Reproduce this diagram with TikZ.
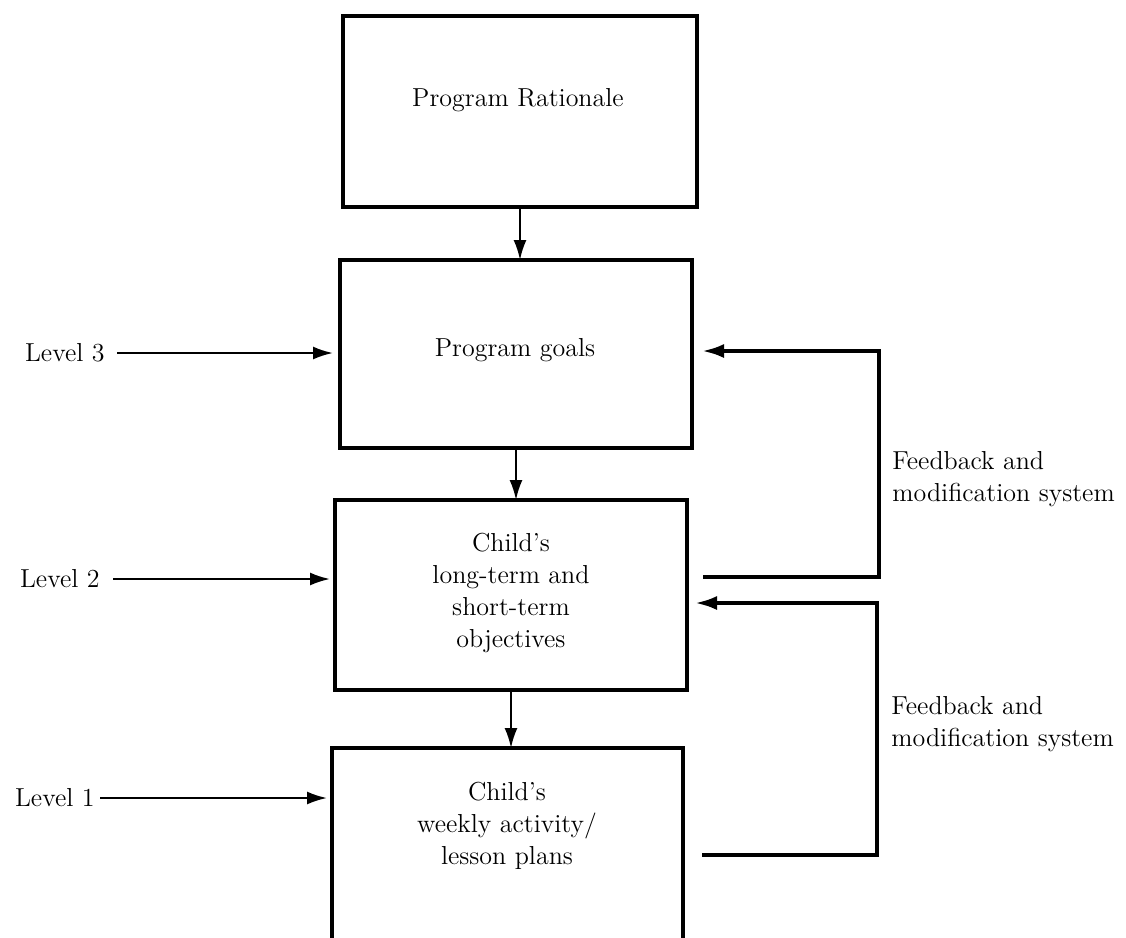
\documentclass[tikz,border=0pt]{standalone}
\usetikzlibrary{arrows.meta}
\begin{document}
\begin{tikzpicture}[x=0.5pt,y=-0.5pt,
  box/.style={draw, line width=1.6pt, inner sep=0pt, outer sep=0pt},
  lbl/.style={font=\fontsize{13}{16}\selectfont, align=center, inner sep=0pt},
  down/.style={line width=1.1pt, -{Latex[length=10pt,width=6.5pt]}},
  lvl/.style={line width=1.1pt, -{Latex[length=10pt,width=6.5pt]}},
  fb/.style={line width=1.9pt, -{Latex[length=11pt,width=7pt]}},
]
\useasboundingbox (0,0) rectangle (1126,938);
\clip (0,0) rectangle (1126,938);

% boxes
\node[box, minimum width=177pt, minimum height=95.5pt] (box1) at (520,111.5) {};
\node[box, minimum width=176pt, minimum height=94pt] (box2) at (516,354) {};
\node[box, minimum width=176pt, minimum height=95pt] (box3) at (511,595) {};
\node[box, minimum width=175.5pt, minimum height=125pt, anchor=north] (box4) at (507.5,748) {};

% box texts
\node[lbl] (t1) at (518,100) {Program Rationale};
\node[lbl] (t2) at (515,350) {Program goals};
\node[lbl] (t3) at (511,593) {Child's\\long-term and\\short-term\\objectives};
\node[lbl] (t4) at (507,826) {Child's\\weekly activity/\\lesson plans};

% level labels
\node[lbl, anchor=east] (L3) at (105,353) {Level 3};
\node[lbl, anchor=east] (L2) at (100,579) {Level 2};
\node[lbl, anchor=east] (L1) at (95,798) {Level 1};

\draw[lvl, shorten <=6pt, shorten >=3.5pt] (L3.east) -- (box2.west |- L3.east);
\draw[lvl, shorten <=6.5pt, shorten >=2.5pt] (L2.east) -- (box3.west |- L2.east);
\draw[lvl, shorten <=2.5pt, shorten >=2.5pt] (L1.east) -- (box4.west |- L1.east);

% vertical arrows
\draw[down] (box1.south) -- (box1.south |- box2.north);
\draw[down] (box2.south) -- (box2.south |- box3.north);
\draw[down] (box3.south) -- (box3.south |- box4.north);

% feedback loops
\coordinate (fb1s) at (0,577);
\coordinate (fb1c) at (879,351);
\coordinate (fb2s) at (0,855);
\coordinate (fb2c) at (877,603);
\draw[fb, shorten <=8pt, shorten >=5pt] (box3.east |- fb1s) -| (fb1c) -- (box2.east |- fb1c);
\draw[fb, shorten <=9.5pt, shorten >=4pt] (box4.east |- fb2s) -| (fb2c) -- (box3.east |- fb2c);

\node[lbl, align=left, anchor=west] (F1) at (892,479) {Feedback and\\modification system};
\node[lbl, align=left, anchor=west] (F2) at (891,724) {Feedback and\\modification system};
\end{tikzpicture}
\end{document}
